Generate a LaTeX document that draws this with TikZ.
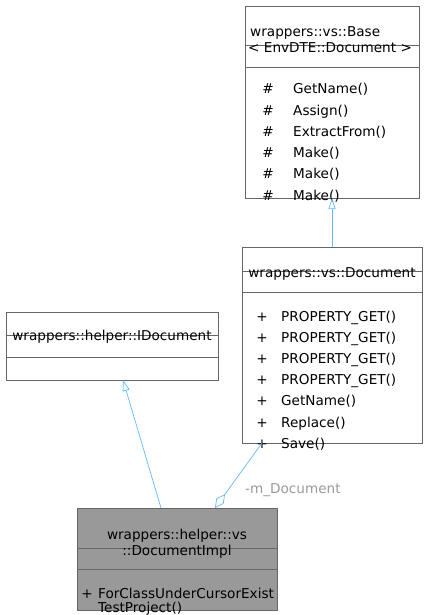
\documentclass[tikz,border=0pt]{standalone}
\usepackage{fontspec}
\setmainfont{DejaVu Sans}
\usetikzlibrary{arrows.meta}
\definecolor{boxline}{HTML}{666666}
\definecolor{implfill}{HTML}{999999}
\definecolor{edgeblue}{HTML}{63B8FF}
\definecolor{labelgray}{HTML}{9A9A9A}
\begin{document}
\begin{tikzpicture}[x=1pt,y=-1pt,
  umlbox/.style={draw=boxline, line width=0.8pt, anchor=north west, inner sep=0pt, outer sep=0pt},
  sep/.style={draw=boxline, line width=0.8pt},
  txt/.style={anchor=base west, inner sep=0pt, font=\fontsize{13.6}{16}\selectfont},
  ctxt/.style={anchor=base, inner sep=0pt, font=\fontsize{13.6}{16}\selectfont},
  inherit/.style={draw=edgeblue, line width=0.7pt, -{Triangle[open, length=11pt, width=7pt]}},
  aggr/.style={draw=edgeblue, line width=0.7pt, {Diamond[open, length=17pt, width=9pt]}-}]
\useasboundingbox (0,0) rectangle (427,615);
% Base
\node[umlbox, minimum width=174pt, minimum height=192pt] (base) at (245,6) {};
\draw[sep] (245,45.5) -- (419,45.5);
\draw[sep] (245,67) -- (419,67);
\node[txt] (bh1) at (250,37) {wrappers::vs::Base};
\node[txt] (bh2) at (248,53) {< EnvDTE::Document >};
\foreach \i/\m in {0/GetName(),1/Assign(),2/ExtractFrom(),3/Make(),4/Make(),5/Make()}{
  \node[ctxt] (bp\i) at (268,94+21.2*\i) {\#};
  \node[txt] (bm\i) at (293,94+21.2*\i) {\m};
}
% Document
\node[umlbox, minimum width=180pt, minimum height=196pt] (doc) at (242,247) {};
\draw[sep] (242,271) -- (422,271);
\draw[sep] (242,292) -- (422,292);
\node[ctxt] (dh) at (332,277) {wrappers::vs::Document};
\foreach \i/\m in {0/PROPERTY\_GET(),1/PROPERTY\_GET(),2/PROPERTY\_GET(),3/PROPERTY\_GET(),4/GetName(),5/Replace(),6/Save()}{
  \node[ctxt] (dp\i) at (262,321+21.2*\i) {+};
  \node[txt] (dm\i) at (281,321+21.2*\i) {\m};
}
% IDocument
\node[umlbox, minimum width=212pt, minimum height=68pt] (idoc) at (6,312) {};
\draw[sep] (6,335) -- (218,335);
\draw[sep] (6,357) -- (218,357);
\node[ctxt] (ih) at (112,340) {wrappers::helper::IDocument};
% DocumentImpl
\node[umlbox, fill=implfill, minimum width=200pt, minimum height=102pt] (impl) at (77,508) {};
\draw[sep] (77,548) -- (277,548);
\draw[sep] (77,569) -- (277,569);
\node[ctxt] (ih1) at (177,539) {wrappers::helper::vs};
\node[ctxt] (ih2) at (177,555) {::DocumentImpl};
\node[ctxt] (ip) at (87,598) {+};
\node[txt] (im1) at (98,598) {ForClassUnderCursorExist};
\node[txt] (im2) at (98,612) {TestProject()};
% connectors
\coordinate (docTop) at (332,247);
\coordinate (baseBot) at (332,198);
\draw[inherit] (docTop) -- (baseBot);
\coordinate (implTopA) at (161,508);
\coordinate (idocBot) at (123,380);
\draw[inherit] (implTopA) -- (idocBot);
\coordinate (implTopB) at (215,508);
\coordinate (docBot) at (262,443);
\draw[aggr] (implTopB) -- (docBot);
\node[txt, text=labelgray] (lbl) at (245,493) {-m\_Document};
\end{tikzpicture}
\end{document}
